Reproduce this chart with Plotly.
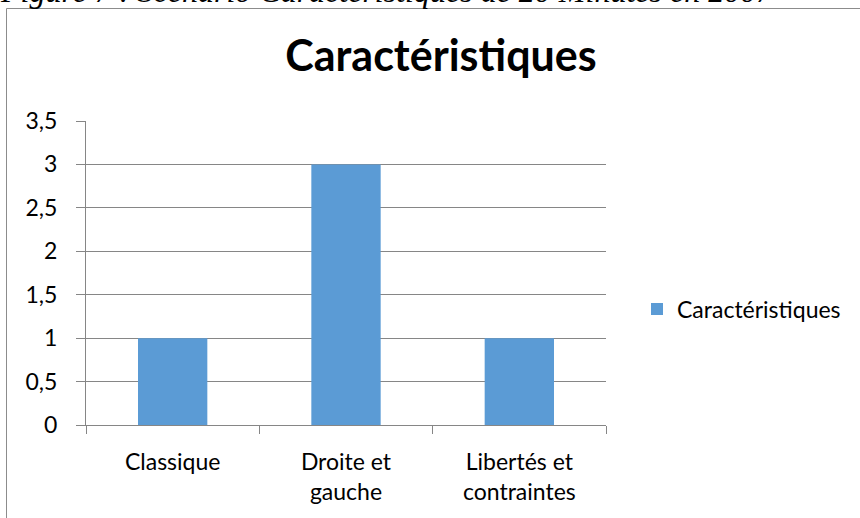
import plotly.graph_objects as go

categories = ["Classique", "Droite et<br>gauche", "Libertés et<br>contraintes"]
values = [1, 3, 1]
series_name = "Caractéristiques"
y_tickvals = [0, 0.5, 1, 1.5, 2, 2.5, 3, 3.5]
y_ticktext = ["0", "0,5", "1", "1,5", "2", "2,5", "3", "3,5"]

W, H = 860, 518
L, R, T, B = 86, 606, 121, 425

def px(x):
    return (x - L) / (R - L)

def py(y):
    return (B - y) / (B - T)

font = "Lato, 'Open Sans', sans-serif"

fig = go.Figure()
fig.add_trace(go.Bar(x=categories, y=values, name=series_name,
                     marker=dict(color="#5B9BD5", line=dict(width=0)),
                     showlegend=True))

fig.update_layout(
    width=W, height=H,
    margin=dict(l=L, r=W - R, t=T, b=H - B, pad=0),
    paper_bgcolor="white", plot_bgcolor="white",
    bargap=0.6,
    title=dict(text="<b>Caractéristiques</b>", x=441 / W, xanchor="center",
               y=1 - 56 / H, yanchor="middle",
               font=dict(family=font, size=43, color="black")),
    xaxis=dict(showline=True, linecolor="#868686", linewidth=1,
               ticks="outside", tickson="boundaries", ticklen=8, tickcolor="#868686",
               tickfont=dict(family=font, size=23, color="black"),
               ticklabelstandoff=16,
               showgrid=False),
    yaxis=dict(range=[0, 3.5], tickvals=y_tickvals, ticktext=y_ticktext,
               showline=True, linecolor="#868686", linewidth=1,
               ticks="outside", ticklen=9, tickcolor="#868686",
               tickfont=dict(family=font, size=23, color="black"),
               ticklabelstandoff=14,
               showgrid=True, gridcolor="#868686", gridwidth=1, zeroline=False),
    legend=dict(x=px(637), y=py(309), xanchor="left", yanchor="middle",
                font=dict(family=font, size=23, color="black"),
                itemwidth=30, bgcolor="rgba(0,0,0,0)"),
    annotations=[dict(text="<i>Figure 7 : Scénario Caractéristiques de 20 Minutes en 2007</i>",
                      xref="paper", yref="paper", x=px(-2), y=py(10.5),
                      xanchor="left", yanchor="bottom", showarrow=False,
                      bgcolor="rgba(0,0,0,0)",
                      font=dict(family="Liberation Serif, serif", size=32, color="black"))],
    shapes=[dict(type="path", xref="paper", yref="paper", layer="above",
                 path=f"M {px(6.5)} {py(530)} L {px(6.5)} {py(8.5)} L {px(870)} {py(8.5)}",
                 line=dict(color="#8c8c8c", width=1))],
)

fig.write_html("out.html", config={"displayModeBar": False},
               post_script="document.body.style.margin='0';")
